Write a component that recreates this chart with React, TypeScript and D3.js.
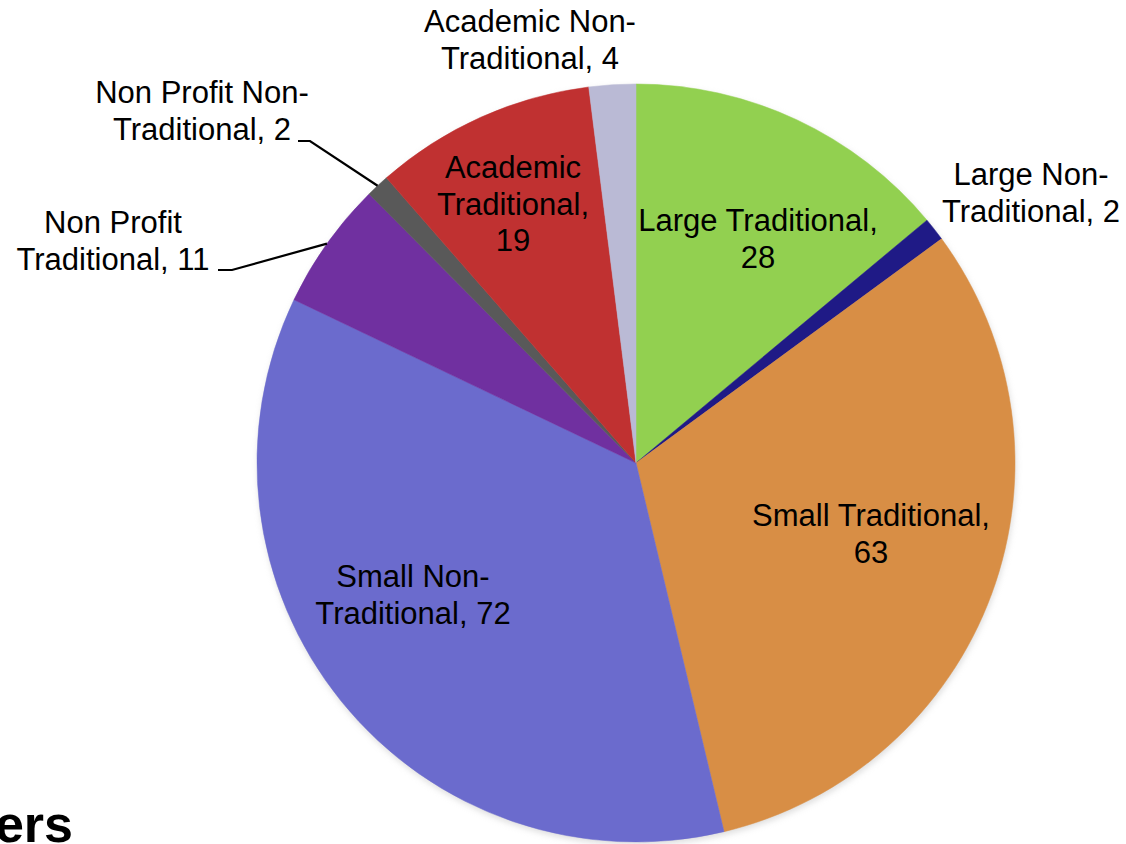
import React from "react";
import * as d3 from "d3";

const categories = [
  "Large Traditional",
  "Large Non-Traditional",
  "Small Traditional",
  "Small Non-Traditional",
  "Non Profit Traditional",
  "Non Profit Non-Traditional",
  "Academic Traditional",
  "Academic Non-Traditional",
];
const values = [28, 2, 63, 72, 11, 2, 19, 4];
const colors = ["#92D050", "#1F1A86", "#D88E45", "#6B6BCD", "#7030A0", "#595959", "#C03131", "#BABAD5"];

// label lines (text content) per slice
const labelLines = [
  ["Large Traditional,", "28"],
  ["Large Non-", "Traditional, 2"],
  ["Small Traditional,", "63"],
  ["Small Non-", "Traditional, 72"],
  ["Non Profit", "Traditional, 11"],
  ["Non Profit Non-", "Traditional, 2"],
  ["Academic", "Traditional,", "19"],
  ["Academic Non-", "Traditional, 4"],
];

const W = 1126;
const H = 844;
const cx = 636;
const cy = 463;
const R = 379;
const FS = 31;
const LH = 36.5;

// label anchor positions (first baseline) in px
const labelPos: [number, number][] = [
  [758, 231],
  [1031, 185],
  [871, 526],
  [413, 587],
  [113, 233],
  [202, 103],
  [513, 178],
  [530, 32],
];

export default function App() {
  const pie = d3.pie<number>().sort(null).value((d) => d).startAngle(0).endAngle(2 * Math.PI);
  const arcs = pie(values);
  const arc = d3.arc<d3.PieArcDatum<number>>().innerRadius(0).outerRadius(R);

  // leader lines for small outside labels
  const leader = (i: number, start: [number, number], knee: [number, number]) => {
    const a = arcs[i];
    const mid = (a.startAngle + a.endAngle) / 2;
    const p: [number, number] = [cx + R * Math.sin(mid), cy - R * Math.cos(mid)];
    return d3.line()([start, knee, p]) || "";
  };

  return (
    <svg width={W} height={H} style={{ position: "absolute", left: 0, top: 0, background: "#fff" }}>
      <defs>
        <filter id="sh" x="-10%" y="-10%" width="120%" height="120%">
          <feGaussianBlur stdDeviation="3" />
        </filter>
      </defs>
      <circle cx={cx + 1} cy={cy + 3} r={R} fill="#bbb" opacity={0.5} filter="url(#sh)" />
      <g transform={`translate(${cx},${cy})`}>
        {arcs.map((a, i) => (
          <path key={categories[i]} d={arc(a) || ""} fill={colors[i]} stroke={colors[i]} strokeWidth={0.5} />
        ))}
      </g>
      <path d={leader(5, [298, 141], [310, 141])} fill="none" stroke="#000" strokeWidth={2.2} />
      <path d={leader(4, [218, 270], [232, 270])} fill="none" stroke="#000" strokeWidth={2.2} />
      <g fontFamily="Liberation Sans, Arial, sans-serif" fontSize={FS} fill="#000" textAnchor="middle">
        {labelLines.map((lines, i) => (
          <text key={categories[i]} x={labelPos[i][0]} y={labelPos[i][1]}>
            {lines.map((l, j) => (
              <tspan key={j} x={labelPos[i][0]} dy={j === 0 ? 0 : LH}>
                {l}
              </tspan>
            ))}
          </text>
        ))}
      </g>
      <text x={73} y={842} textAnchor="end" fontFamily="Liberation Sans, Arial, sans-serif" fontWeight="bold" fontSize={52} fill="#000">
        ers
      </text>
    </svg>
  );
}
